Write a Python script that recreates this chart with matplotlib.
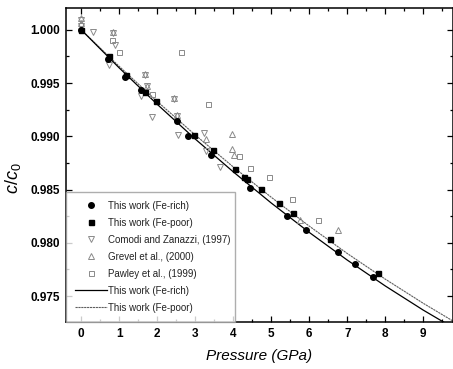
import matplotlib
matplotlib.use("Agg")
import matplotlib.pyplot as plt
from matplotlib.lines import Line2D
from matplotlib.ticker import MultipleLocator

plt.rcParams['font.family'] = ['Liberation Sans', 'DejaVu Sans']
plt.rcParams['mathtext.fontset'] = 'custom'
plt.rcParams['mathtext.it'] = 'Liberation Sans:italic'
plt.rcParams['mathtext.rm'] = 'Liberation Sans'

# this work, Fe-rich sample
p_rich = [0.0, 0.71, 1.16, 1.56, 2.52, 2.82, 3.42, 4.45, 5.42, 5.92, 6.75, 7.19, 7.68]
c_rich = [1.0, 0.9973, 0.9956, 0.9943, 0.9914, 0.99006, 0.98827, 0.98518, 0.98255,
          0.98124, 0.97911, 0.97803, 0.97676]

# this work, Fe-poor sample
p_poor = [0.0, 0.72, 1.18, 1.69, 1.96, 2.96, 3.46, 4.05, 4.28, 4.37, 4.72, 5.19, 5.57,
          6.55, 7.82]
c_poor = [1.0, 0.9975, 0.9958, 0.99415, 0.99328, 0.99015, 0.98868, 0.98696, 0.98618,
          0.98599, 0.98508, 0.98374, 0.98280, 0.98035, 0.97716]

# literature data
p_comodi = [0.0, 0.0, 0.31, 0.72, 0.83, 0.90, 1.56, 1.67, 1.73, 1.87, 2.43, 2.52, 2.54,
            3.23, 3.27, 3.64]
c_comodi = [1.0009, 1.0004, 0.99978, 0.99665, 0.9997, 0.9986, 0.99381, 0.99578, 0.99468,
            0.99177, 0.9935, 0.99193, 0.99015, 0.9903, 0.98865, 0.98708]

p_grevel = [0.0, 0.0, 0.83, 1.67, 1.73, 2.43, 2.52, 3.29, 3.97, 3.97, 4.02, 5.76, 6.75]
c_grevel = [1.0011, 1.0006, 0.9998, 0.99585, 0.99475, 0.99358, 0.99200, 0.98975, 0.99022,
            0.98881, 0.98827, 0.98211, 0.98124]

p_pawley = [0.82, 0.99, 1.86, 2.63, 3.33, 4.14, 4.43, 4.94, 5.54, 6.24]
c_pawley = [0.9990, 0.99796, 0.9940, 0.99796, 0.99303, 0.98811, 0.98703, 0.98614,
            0.98415, 0.98211]

# fitted curves, read at 1 GPa steps
p_fit = [0, 1, 2, 3, 4, 5, 6, 7, 8, 9, 10]
fit_rich = [1.0, 0.99642, 0.99300, 0.98974, 0.98666, 0.98373, 0.98097, 0.97837,
            0.97594, 0.97367, 0.97157]
fit_poor = [1.0, 0.99656, 0.99327, 0.99012, 0.98712, 0.98427, 0.98156, 0.97899,
            0.97658, 0.97431, 0.97218]

gray = '#8a8a8a'
poor_line = dict(color='#5e5e5e', lw=0.8, ls=(0, (2.0, 0.6)))

fig = plt.figure(figsize=(4.53, 3.69), dpi=100)
ax = fig.add_axes([0.1457, 0.1274, 0.8543, 0.8496])

ax.plot(p_fit, fit_poor, zorder=2, **poor_line)
ax.plot(p_fit, fit_rich, color='black', lw=0.9, zorder=2)

ax.plot(p_comodi, c_comodi, ls='none', marker='v', ms=4, mfc='none', mec=gray, mew=0.7)
ax.plot(p_grevel, c_grevel, ls='none', marker='^', ms=4, mfc='none', mec=gray, mew=0.7)
ax.plot(p_pawley, c_pawley, ls='none', marker='s', ms=3.6, mfc='none', mec=gray, mew=0.7)
ax.plot(p_poor, c_poor, ls='none', marker='s', ms=3.6, color='black', zorder=3)
ax.plot(p_rich, c_rich, ls='none', marker='o', ms=4, color='black', zorder=3)

ax.set_xlim(-0.40, 9.78)
ax.set_ylim(0.97256, 1.0020)
ax.xaxis.set_major_locator(MultipleLocator(1))
ax.xaxis.set_minor_locator(MultipleLocator(0.5))
ax.yaxis.set_major_locator(MultipleLocator(0.005))
ax.yaxis.set_minor_locator(MultipleLocator(0.0025))
ax.yaxis.set_major_formatter(plt.FormatStrFormatter('%.3f'))
ax.tick_params(which='both', direction='in', top=True, right=True, width=0.9)
ax.tick_params(which='major', length=4.3, labelsize=8.5, pad=4.5)
ax.tick_params(which='minor', length=2.5)
for lab in ax.get_xticklabels() + ax.get_yticklabels():
    lab.set_fontweight('bold')
for sp in ax.spines.values():
    sp.set_linewidth(1.1)

ax.set_xlabel('Pressure (GPa)', fontsize=11, style='italic', labelpad=6)
ax.set_ylabel(r'$c/c_0$', fontsize=13)
ax.yaxis.set_label_coords(-0.112, 0.46)

handles = [
    Line2D([], [], ls='none', marker='o', ms=4, color='black'),
    Line2D([], [], ls='none', marker='s', ms=3.6, color='black'),
    Line2D([], [], ls='none', marker='v', ms=4, mfc='none', mec=gray, mew=0.7),
    Line2D([], [], ls='none', marker='^', ms=4, mfc='none', mec=gray, mew=0.7),
    Line2D([], [], ls='none', marker='s', ms=3.6, mfc='none', mec=gray, mew=0.7),
    Line2D([], [], color='black', lw=0.9),
    Line2D([], [], **poor_line),
]
labels = ['This work (Fe-rich)', 'This work (Fe-poor)', 'Comodi and Zanazzi, (1997)',
          'Grevel et al., (2000)', 'Pawley et al., (1999)', 'This work (Fe-rich)',
          'This work (Fe-poor)']
# frame runs from the left spine to P = 4
leg = ax.legend(handles, labels, loc='lower left', bbox_to_anchor=(0, 0, 0.437, 0.5),
                mode='expand', borderaxespad=0, fontsize=7, handlelength=3.3,
                handletextpad=0.1, labelspacing=0.72, borderpad=0.95,
                fancybox=False, numpoints=1)
leg.get_frame().set_edgecolor('#9a9a9a')
leg.get_frame().set_linewidth(1.0)
for t in leg.get_texts():
    t.set_color('#222222')

fig.savefig('out.png', dpi=100)
